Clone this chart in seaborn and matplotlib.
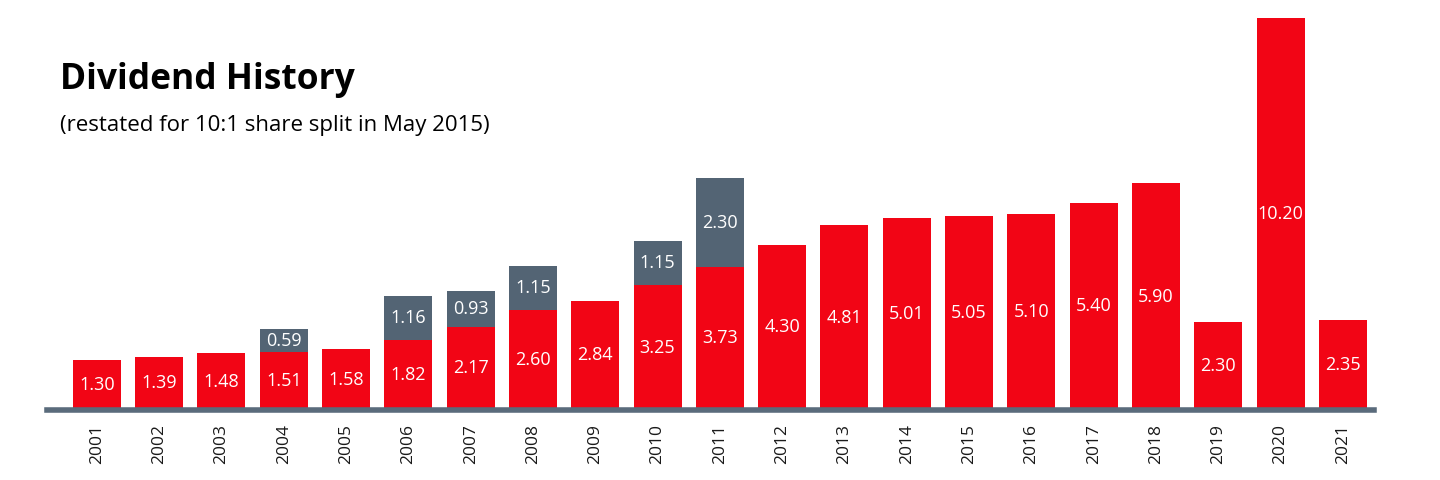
import matplotlib
matplotlib.use("Agg")
import matplotlib.pyplot as plt
import seaborn as sns
import numpy as np
import pandas as pd

years = [str(y) for y in range(2001, 2022)]
regular = [1.30, 1.39, 1.48, 1.51, 1.58, 1.82, 2.17, 2.60, 2.84, 3.25, 3.73,
           4.30, 4.81, 5.01, 5.05, 5.10, 5.40, 5.90, 2.30, 10.20, 2.35]
special = [0, 0, 0, 0.59, 0, 1.16, 0.93, 1.15, 0, 1.15, 2.30,
           0, 0, 0, 0, 0, 0, 0, 0, 0, 0]

RED = "#f20515"
GRAY = "#536474"
LINE = "#5a6b7b"

df = pd.DataFrame({"year": years, "regular": regular, "special": special})
df["total"] = df["regular"] + df["special"]

sns.set_style("white")
plt.rcParams["font.family"] = ["Open Sans", "DejaVu Sans"]

fig = plt.figure(figsize=(14.4, 4.8), dpi=100)
ax = fig.add_axes([47 / 1440, 1 - 410 / 480, 1327 / 1440, 400 / 480])

# special part drawn as the full stack, regular on top of it
sns.barplot(data=df, x="year", y="total", color=GRAY, width=0.77,
            saturation=1, linewidth=0, ax=ax, zorder=2)
sns.barplot(data=df, x="year", y="regular", color=RED, width=0.77,
            saturation=1, linewidth=0, ax=ax, zorder=3)

for i, row in df.iterrows():
    ax.text(i, row["regular"] / 2, f"{row['regular']:.2f}", ha="center",
            va="center", color="white", fontsize=13, zorder=4)
    if row["special"] > 0:
        ax.text(i, row["regular"] + row["special"] / 2, f"{row['special']:.2f}",
                ha="center", va="center", color="white", fontsize=13, zorder=4)

ax.set_xlim(-0.8, 20.5)
ax.set_ylim(0, 400 / 38.4)
ax.set_xlabel("")
ax.set_ylabel("")
ax.set_yticks([])
sns.despine(ax=ax, left=True, top=True, right=True)
ax.spines["bottom"].set_color(LINE)
ax.spines["bottom"].set_linewidth(4)
ax.spines["bottom"].set_zorder(5)
ax.tick_params(axis="x", length=0, pad=10, labelsize=12.5, labelcolor="#1a1a1a")
plt.setp(ax.get_xticklabels(), rotation=90)

fig.text(60 / 1440, 1 - 80 / 480, "Dividend History", fontsize=25.5,
         fontweight="bold", va="center", ha="left", color="black")
fig.text(60 / 1440, 1 - 125 / 480, "(restated for 10:1 share split in May 2015)",
         fontsize=16, va="center", ha="left", color="black")

fig.savefig("out.png", dpi=100)
